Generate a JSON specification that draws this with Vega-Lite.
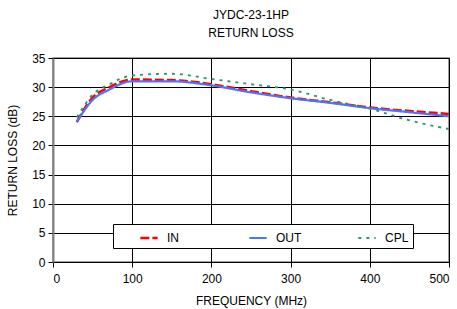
{
  "$schema": "https://vega.github.io/schema/vega-lite/v6.json",
  "autosize": "none",
  "width": 396,
  "height": 204,
  "padding": {"left": 53, "top": 58, "right": 8, "bottom": 47},
  "background": "white",
  "config": {
    "font": "Liberation Sans",
    "view": {"stroke": "#808080", "strokeWidth": 1.5},
    "axis": {"labelFont": "Liberation Sans", "titleFont": "Liberation Sans", "labelFontSize": 12, "titleFontSize": 12, "titleFontWeight": "normal", "labelColor": "#000", "titleColor": "#000", "grid": true, "gridColor": "#000", "gridOpacity": 1, "gridWidth": 1, "tickColor": "#000", "tickSize": 5, "domainColor": "#000"}
  },
  "title": {"text": ["JYDC-23-1HP", "RETURN LOSS"], "font": "Liberation Sans", "fontSize": 12, "fontWeight": "normal", "color": "#000", "lineHeight": 18, "offset": 12, "anchor": "middle"},
  "data": {"values": [
    {"f": 30, "s": "IN", "v": 24.0}, {"f": 50, "s": "IN", "v": 28.2}, {"f": 70, "s": "IN", "v": 29.9}, {"f": 100, "s": "IN", "v": 31.3}, {"f": 150, "s": "IN", "v": 31.2}, {"f": 200, "s": "IN", "v": 30.5}, {"f": 250, "s": "IN", "v": 29.3}, {"f": 300, "s": "IN", "v": 28.2}, {"f": 350, "s": "IN", "v": 27.4}, {"f": 400, "s": "IN", "v": 26.5}, {"f": 450, "s": "IN", "v": 25.9}, {"f": 500, "s": "IN", "v": 25.4},
    {"f": 30, "s": "OUT", "v": 24.0}, {"f": 50, "s": "OUT", "v": 27.8}, {"f": 70, "s": "OUT", "v": 29.5}, {"f": 100, "s": "OUT", "v": 31.0}, {"f": 150, "s": "OUT", "v": 31.0}, {"f": 200, "s": "OUT", "v": 30.3}, {"f": 250, "s": "OUT", "v": 29.1}, {"f": 300, "s": "OUT", "v": 28.1}, {"f": 350, "s": "OUT", "v": 27.3}, {"f": 400, "s": "OUT", "v": 26.4}, {"f": 450, "s": "OUT", "v": 25.7}, {"f": 500, "s": "OUT", "v": 25.0},
    {"f": 30, "s": "CPL", "v": 24.8}, {"f": 50, "s": "CPL", "v": 28.7}, {"f": 70, "s": "CPL", "v": 30.4}, {"f": 100, "s": "CPL", "v": 32.0}, {"f": 150, "s": "CPL", "v": 32.3}, {"f": 200, "s": "CPL", "v": 31.4}, {"f": 250, "s": "CPL", "v": 30.5}, {"f": 300, "s": "CPL", "v": 29.6}, {"f": 350, "s": "CPL", "v": 27.8}, {"f": 400, "s": "CPL", "v": 26.3}, {"f": 450, "s": "CPL", "v": 24.3}, {"f": 500, "s": "CPL", "v": 22.8}
  ]},
  "mark": {"type": "line", "interpolate": "monotone"},
  "encoding": {
    "x": {"field": "f", "type": "quantitative", "scale": {"domain": [0, 500], "nice": false},
      "axis": {"title": "FREQUENCY (MHz)", "grid": true, "values": [0, 100, 200, 300, 400, 500], "labelPadding": 6, "titleY": 38, "titleBaseline": "middle", "tickSize": 5}},
    "y": {"field": "v", "type": "quantitative", "scale": {"domain": [0, 35], "nice": false},
      "axis": {"title": "RETURN LOSS (dB)", "grid": true, "values": [0, 5, 10, 15, 20, 25, 30, 35], "labelPadding": 3, "titleX": -41, "titleBaseline": "middle", "domainColor": "#808080", "domainWidth": 2}},
    "color": {"field": "s", "type": "nominal", "sort": ["IN", "OUT", "CPL"],
      "scale": {"domain": ["IN", "OUT", "CPL"], "range": ["#FF0000", "#4A76FF", "#2E9462"]},
      "legend": {"title": null, "orient": "none", "legendX": 60, "legendY": 166, "direction": "horizontal", "columns": 3, "gridAlign": "all", "columnPadding": 33, "padding": 4, "strokeColor": "#000", "fillColor": "#fff", "symbolType": "stroke", "symbolSize": 300, "symbolStrokeWidth": 3, "symbolOffset": 22, "labelFontSize": 12, "labelFont": "Liberation Sans", "labelColor": "#000", "labelOffset": 8, "offset": 0}},
    "strokeDash": {"field": "s", "type": "nominal", "sort": ["IN", "OUT", "CPL"],
      "scale": {"domain": ["IN", "OUT", "CPL"], "range": [[9, 3], [1, 0], [3, 5]]}, "legend": null},
    "strokeWidth": {"field": "s", "type": "nominal",
      "scale": {"domain": ["IN", "OUT", "CPL"], "range": [2.6, 1.8, 2.4]}, "legend": null}
  }
}
